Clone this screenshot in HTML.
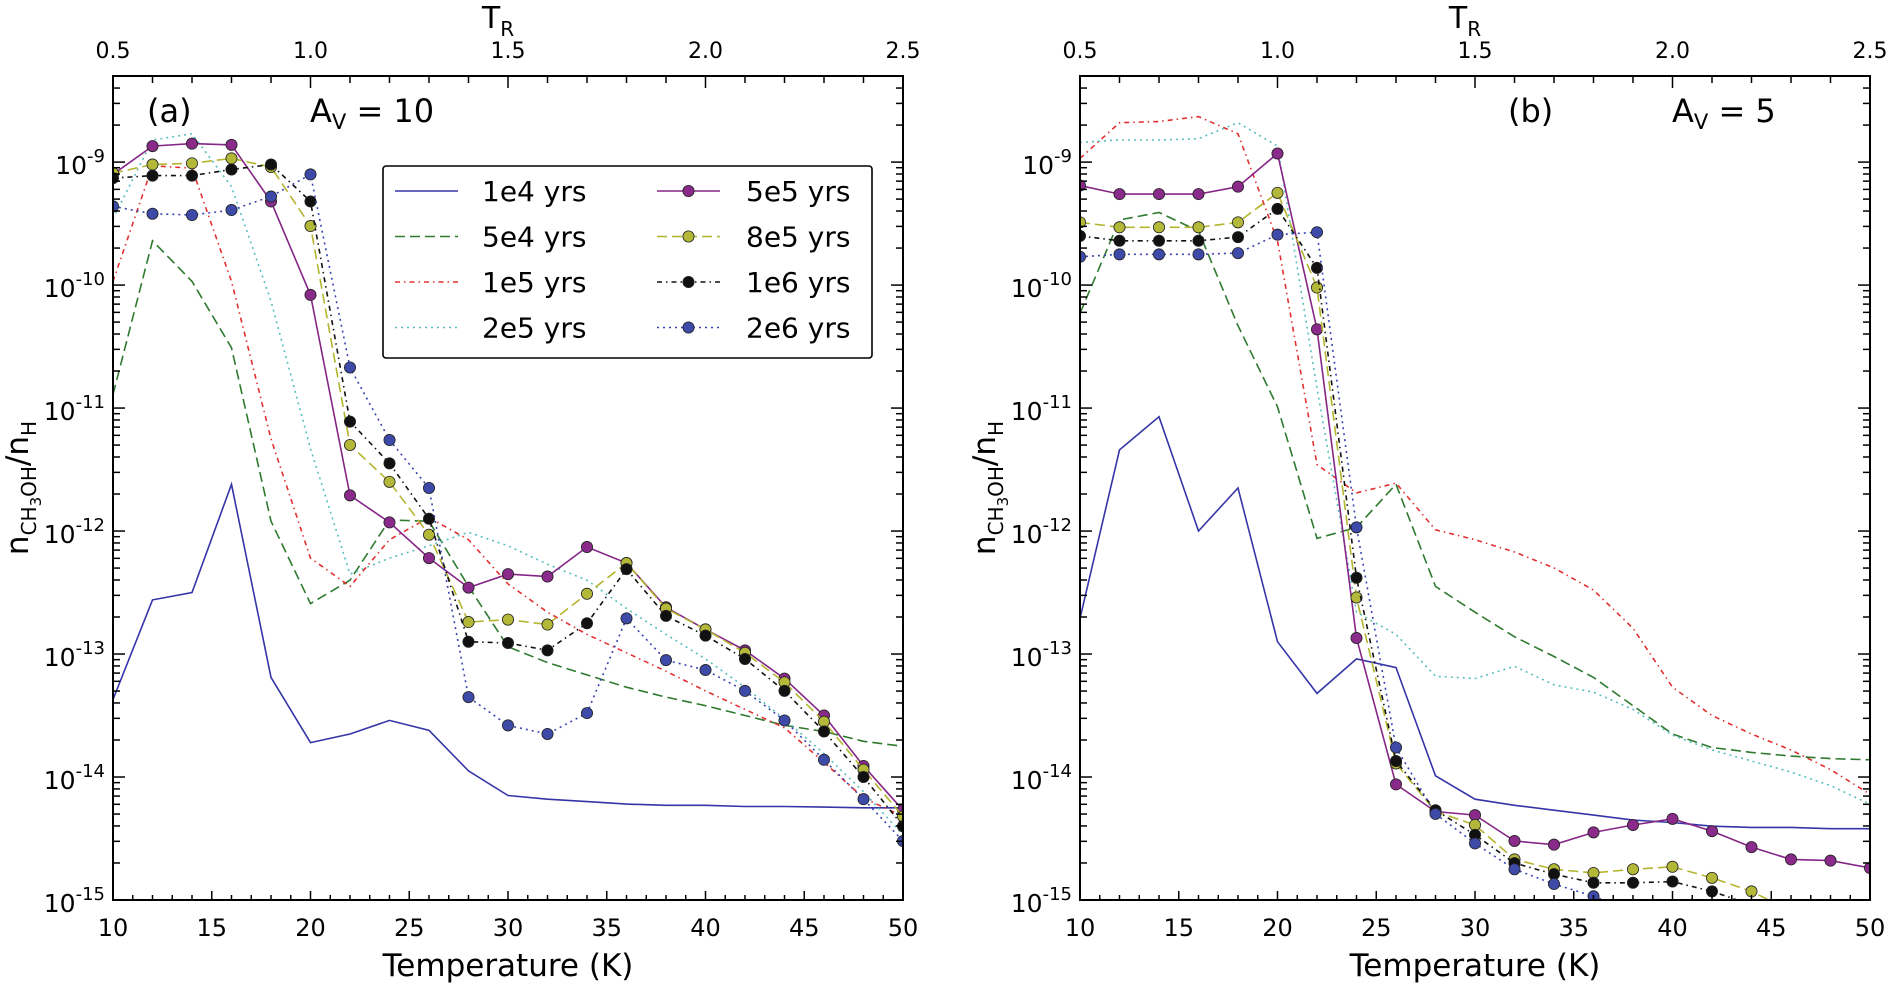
<!DOCTYPE html>
<html><head><meta charset="utf-8"><style>
body{margin:0;background:#fff;}
svg{display:block;font-family:"DejaVu Sans","Liberation Sans",sans-serif;}
</style></head><body>
<svg id="chart" width="1890" height="984" viewBox="0 0 1890 984" xmlns="http://www.w3.org/2000/svg"></svg>
<script>
const temps=[10,12,14,16,18,20,22,24,26,28,30,32,34,36,38,40,42,44,46,48,50];
const seriesNames=["1e4 yrs","5e4 yrs","1e5 yrs","2e5 yrs","5e5 yrs","8e5 yrs","1e6 yrs","2e6 yrs"];
// log10 abundances, panel (a) Av=10
const a1e4=[-13.37,-12.56,-12.50,-11.62,-13.19,-13.72,-13.65,-13.54,-13.62,-13.95,-14.15,-14.18,-14.20,-14.22,-14.23,-14.23,-14.24,-14.24,-14.245,-14.25,-14.25];
const a5e4=[-10.89,-9.64,-9.97,-10.51,-11.92,-12.59,-12.40,-11.91,-11.92,-12.45,-12.94,-13.07,-13.17,-13.27,-13.35,-13.42,-13.50,-13.58,-13.63,-13.71,-13.75];
const a1e5=[-9.97,-9.03,-9.05,-9.97,-11.25,-12.22,-12.45,-12.07,-11.89,-12.07,-12.43,-12.66,-12.84,-12.99,-13.14,-13.30,-13.45,-13.60,-13.88,-14.17,-14.32];
const a2e5=[-9.46,-8.82,-8.77,-9.20,-10.13,-11.33,-12.35,-12.22,-12.12,-12.01,-12.12,-12.27,-12.40,-12.63,-12.84,-13.04,-13.27,-13.53,-13.81,-14.12,-14.47];
const a5e5=[-9.10,-8.87,-8.85,-8.86,-9.32,-10.08,-11.71,-11.93,-12.22,-12.46,-12.35,-12.37,-12.13,-12.26,-12.62,-12.80,-12.97,-13.20,-13.50,-13.91,-14.27];
const a8e5=[-9.09,-9.02,-9.01,-8.97,-9.04,-9.52,-11.30,-11.60,-12.03,-12.74,-12.72,-12.76,-12.51,-12.26,-12.63,-12.80,-12.99,-13.23,-13.55,-13.94,-14.32];
const a1e6=[-9.13,-9.11,-9.11,-9.06,-9.02,-9.32,-11.11,-11.45,-11.90,-12.90,-12.91,-12.97,-12.75,-12.31,-12.69,-12.85,-13.04,-13.30,-13.63,-14.00,-14.40];
const a2e6=[-9.36,-9.42,-9.43,-9.39,-9.28,-9.10,-10.67,-11.26,-11.65,-13.35,-13.58,-13.65,-13.48,-12.71,-13.05,-13.13,-13.30,-13.54,-13.86,-14.18,-14.52];
// panel (b) Av=5
const b1e4=[-12.71,-11.34,-11.07,-12.00,-11.65,-12.90,-13.32,-13.04,-13.11,-13.99,-14.18,-14.23,-14.27,-14.31,-14.35,-14.37,-14.40,-14.41,-14.41,-14.42,-14.42];
const b5e4=[-10.23,-9.47,-9.41,-9.56,-10.33,-10.99,-12.06,-11.97,-11.62,-12.45,-12.66,-12.86,-13.02,-13.19,-13.42,-13.65,-13.76,-13.80,-13.83,-13.85,-13.86];
const b1e5=[-8.97,-8.68,-8.67,-8.63,-8.77,-9.64,-11.46,-11.69,-11.61,-11.99,-12.07,-12.17,-12.30,-12.48,-12.79,-13.27,-13.50,-13.65,-13.78,-13.94,-14.14];
const b2e5=[-8.84,-8.82,-8.82,-8.81,-8.68,-8.87,-10.84,-12.66,-12.84,-13.18,-13.20,-13.10,-13.25,-13.31,-13.45,-13.66,-13.78,-13.87,-13.96,-14.07,-14.22];
const b5e5=[-9.19,-9.26,-9.26,-9.26,-9.20,-8.93,-10.36,-12.87,-14.06,-14.28,-14.31,-14.52,-14.55,-14.45,-14.39,-14.34,-14.44,-14.57,-14.67,-14.68,-14.74];
const b8e5=[-9.49,-9.53,-9.53,-9.53,-9.49,-9.25,-10.02,-12.54,-13.89,-14.28,-14.39,-14.67,-14.75,-14.78,-14.75,-14.73,-14.82,-14.93,-15.09,-15.25,-15.4];
const b1e6=[-9.60,-9.64,-9.64,-9.64,-9.61,-9.38,-9.86,-12.38,-13.87,-14.27,-14.47,-14.70,-14.79,-14.86,-14.86,-14.85,-14.93,-15.04,-15.14,-15.3,-15.45];
const b2e6=[-9.77,-9.75,-9.75,-9.75,-9.74,-9.59,-9.57,-11.97,-13.76,-14.30,-14.54,-14.75,-14.87,-14.97,-15.09,-15.2,-15.3,-15.4,-15.5,-15.6,-15.7];
const xTicks=[10,15,20,25,30,35,40,45,50];
const topTicks=["0.5","1.0","1.5","2.0","2.5"];
const yDecades=[-15,-14,-13,-12,-11,-10,-9];

const NS="http://www.w3.org/2000/svg";
const svg=document.getElementById('chart');
function mk(tag,attrs,parent){const e=document.createElementNS(NS,tag);for(const k in attrs)e.setAttribute(k,attrs[k]);(parent||svg).appendChild(e);return e;}
const styles=[
 {c:"#3535a8",d:"",m:null},
 {c:"#2f7a2f",d:"10,5",m:null},
 {c:"#e23030",d:"5,4,1.5,4",m:null},
 {c:"#5bbdbd",d:"2,4",m:null},
 {c:"#862686",d:"",m:"#8a2a8a"},
 {c:"#b4b52e",d:"10,5",m:"#b4b838"},
 {c:"#111111",d:"5,4,1.5,4",m:"#111111"},
 {c:"#3a46b0",d:"2,4",m:"#3d4aa8"}
];
const Y0=76,Y1=900,YMAX=-8.30,YMIN=-15;
function drawPanel(px,idx,data,label,avText,labelX,avX){
 const W=790;
 const g=mk('g',{},svg);
 
 
 const xs=t=>px+(t-10)/40*W;
 const ys=l=>Y0+(YMAX-l)/(YMAX-YMIN)*(Y1-Y0);
 const cid='clip'+idx;
 const cp=mk('clipPath',{id:cid},g);mk('rect',{x:px,y:Y0,width:W,height:Y1-Y0},cp);
 const sg=mk('g',{'clip-path':'url(#'+cid+')'},g);
 data.forEach((arr,i)=>{
  const s=styles[i];
  const pts=temps.map((t,j)=>xs(t).toFixed(1)+','+ys(arr[j]).toFixed(1)).join(' ');
  const pl=mk('polyline',{points:pts,fill:'none',stroke:s.c,'stroke-width':1.6,'stroke-dasharray':s.d},sg);
  
  
  if(s.m){temps.forEach((t,j)=>{
   const c=mk('circle',{cx:xs(t),cy:ys(arr[j]),r:5.6,fill:s.m,stroke:'#222','stroke-width':0.8},sg);
   
   
  });}
 });
 // frame
 const fr=mk('rect',{x:px,y:Y0,width:W,height:Y1-Y0,fill:'none',stroke:'#000','stroke-width':2},g);
 
 
 // bottom/top minor ticks
 for(let t=10;t<=50;t++){const x=xs(t);const L=(t%5===0)?9:5;
  mk('line',{x1:x,y1:Y1,x2:x,y2:Y1-L,stroke:'#000','stroke-width':1.5},g);}
 for(let t=10;t<=50;t+=2){const x=xs(t);const L=(t%10===0)?12:7;
  mk('line',{x1:x,y1:Y0,x2:x,y2:Y0+L,stroke:'#000','stroke-width':1.5},g);}
 xTicks.forEach(t=>{const tx=mk('text',{x:xs(t),y:936,'font-size':24,'text-anchor':'middle'},g);tx.textContent=t;
  
  });
 topTicks.forEach((s,i)=>{const tx=mk('text',{x:xs(10+i*10),y:58,'font-size':22,'text-anchor':'middle'},g);tx.textContent=s;
  
  });
 // y ticks
 for(let d=-15;d<=-9;d++){for(let m=1;m<10;m++){const l=d+Math.log10(m);if(l>YMAX)break;const y=ys(l);const L=m===1?12:7;
  mk('line',{x1:px,y1:y,x2:px+L,y2:y,stroke:'#000','stroke-width':1.5},g);
  mk('line',{x1:px+W,y1:y,x2:px+W-L,y2:y,stroke:'#000','stroke-width':1.5},g);}}
 yDecades.forEach(d=>{const tx=mk('text',{x:px-8,y:ys(d)+12,'font-size':25,'text-anchor':'end'},g);
  tx.innerHTML='10<tspan font-size="18" dy="-12">'+d+'</tspan>';
  
  });
 const xt=mk('text',{x:px+W/2,y:976,'font-size':31,'text-anchor':'middle'},g);xt.textContent='Temperature (K)';
 
 
 const tt=mk('text',{x:px+W/2-10,y:28,'font-size':30,'text-anchor':'middle'},g);tt.innerHTML='T<tspan font-size="20" dy="8">R</tspan>';
 
 
 const yt=mk('text',{transform:'translate('+(px-85)+',488) rotate(-90)','font-size':31,'text-anchor':'middle'},g);
 yt.innerHTML='n<tspan font-size="20" dy="8">CH</tspan><tspan font-size="15" dy="5">3</tspan><tspan font-size="20" dy="-5">OH</tspan><tspan dy="-8">/n</tspan><tspan font-size="20" dy="8">H</tspan>';
 
 
 const pl=mk('text',{x:labelX,y:122,'font-size':32},g);pl.textContent=label;
 
 
 const av=mk('text',{x:avX,y:122,'font-size':32},g);av.innerHTML='A<tspan font-size="21" dy="7">V</tspan><tspan dy="-7"> = '+avText+'</tspan>';
 
 
}
drawPanel(113,'a',[a1e4,a5e4,a1e5,a2e5,a5e5,a8e5,a1e6,a2e6],'(a)','10',147,310);
drawPanel(1080,'b',[b1e4,b5e4,b1e5,b2e5,b5e5,b8e5,b1e6,b2e6],'(b)','5',1508,1672);
// legend
const lg=mk('g',{},svg);


mk('rect',{x:383,y:166,width:489,height:192,rx:3,fill:'#fff',stroke:'#000','stroke-width':1.6},lg);
seriesNames.forEach((n,i)=>{
 const col=i<4?0:1,row=i%4;const s=styles[i];
 const lx=col?657:395,tx=col?746:482,y=191+row*45.5;
 const e=mk('g',{},lg);
 
 
 mk('line',{x1:lx,y1:y,x2:lx+63,y2:y,stroke:s.c,'stroke-width':1.6,'stroke-dasharray':s.d},e);
 if(s.m)mk('circle',{cx:lx+31.5,cy:y,r:5.6,fill:s.m,stroke:'#222','stroke-width':0.8},e);
 const t=mk('text',{x:tx,y:y+10,'font-size':28},e);t.textContent=n;
});
</script>
</body></html>
